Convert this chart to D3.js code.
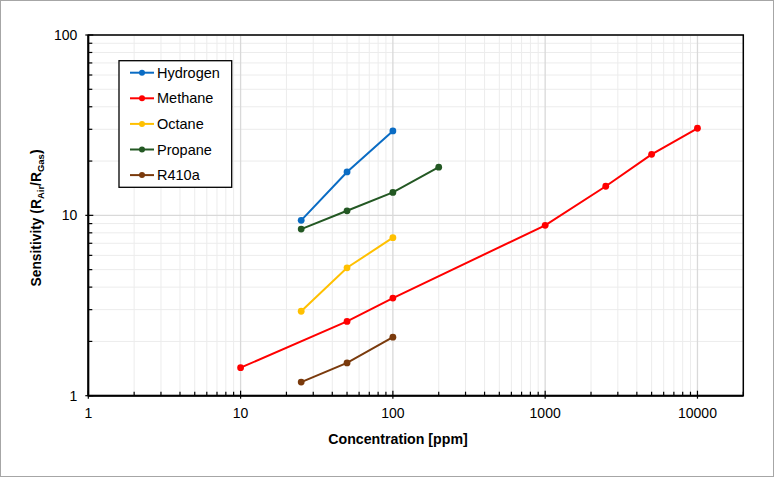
<!DOCTYPE html>
<html><head><meta charset="utf-8">
<script src="https://cdn.jsdelivr.net/npm/d3@7"></script>
<style>body{margin:0;background:#fff}svg{display:block;font-family:"Liberation Sans",Arial,sans-serif}</style>
</head><body>
<script>
const seriesNames = ["Hydrogen","Methane","Octane","Propane","R410a"];
const seriesColors = ["#0a6cc4","#ff0000","#ffc000","#235823","#7a3a0c"];
const hydrogen = [[25,9.38],[50,17.4],[100,29.4]];
const methane = [[10,1.43],[50,2.58],[100,3.48],[1000,8.8],[2500,14.5],[5000,21.8],[10000,30.4]];
const octane = [[25,2.94],[50,5.12],[100,7.52]];
const propane = [[25,8.39],[50,10.6],[100,13.4],[200,18.5]];
const r410a = [[25,1.19],[50,1.52],[100,2.11]];
const xTickLabels = [1,10,100,1000,10000];
const yTickLabels = [1,10,100];

const seriesData = [hydrogen, methane, octane, propane, r410a];
const W=774,H=477;
const m={l:88.3,t:35,r:743.3,b:395.7};
const svg=d3.select("body").append("svg").attr("width",W).attr("height",H);
svg.append("rect").attr("x",0.5).attr("y",0.5).attr("width",W-1).attr("height",H-1).attr("fill","#fff").attr("stroke","#a6a6a6");
const x=d3.scaleLog().domain([1,20000]).range([m.l,m.r]);
const y=d3.scaleLog().domain([1,100]).range([m.b,m.t]);

const minorX=[],majorX=[];
for(let d=1;d<=10000;d*=10){for(let k=1;k<10;k++){const v=d*k;if(v>20000)break;(k===1?majorX:minorX).push(v);}}
const minorY=[],majorY=[];
for(let d=1;d<100;d*=10){for(let k=1;k<10;k++){(k===1?majorY:minorY).push(d*k);}}
majorY.push(100);
const g=svg.append("g");
g.selectAll(".mx").data(minorX).join("line").attr("x1",d=>x(d)).attr("x2",d=>x(d)).attr("y1",m.t).attr("y2",m.b).attr("stroke","#ececec");
g.selectAll(".my").data(minorY).join("line").attr("y1",d=>y(d)).attr("y2",d=>y(d)).attr("x1",m.l).attr("x2",m.r).attr("stroke","#ececec");
g.selectAll(".Mx").data(majorX).join("line").attr("x1",d=>x(d)).attr("x2",d=>x(d)).attr("y1",m.t).attr("y2",m.b).attr("stroke","#d9d9d9").attr("stroke-width",1.3);
g.selectAll(".My").data(majorY).join("line").attr("y1",d=>y(d)).attr("y2",d=>y(d)).attr("x1",m.l).attr("x2",m.r).attr("stroke","#d9d9d9").attr("stroke-width",1.3);

// frame
svg.append("rect").attr("x",m.l).attr("y",m.t).attr("width",m.r-m.l).attr("height",m.b-m.t).attr("fill","none").attr("stroke","#000").attr("stroke-width",1.5);

// axes with inside ticks
const xa=svg.append("g").attr("transform",`translate(0,${m.b})`);
xa.selectAll(".t").data(majorX.concat(minorX)).join("line").attr("x1",d=>x(d)).attr("x2",d=>x(d)).attr("y1",d=>majorX.includes(d)?-5:-4).attr("y2",d=>majorX.includes(d)?3:0).attr("stroke","#000").attr("stroke-width",1.2);
xa.selectAll(".l").data(xTickLabels).join("text").attr("x",d=>x(d)).attr("y",22).attr("text-anchor","middle").attr("font-size",14).attr("fill","#000").text(d=>d);
const ya=svg.append("g").attr("transform",`translate(${m.l},0)`);
ya.selectAll(".t").data(majorY.concat(minorY)).join("line").attr("y1",d=>y(d)).attr("y2",d=>y(d)).attr("x1",d=>majorY.includes(d)?-3:0).attr("x2",d=>majorY.includes(d)?5:4).attr("stroke","#000").attr("stroke-width",1.2);
ya.selectAll(".l").data(yTickLabels).join("text").attr("x",-11).attr("y",d=>y(d)+5).attr("text-anchor","end").attr("font-size",14).attr("fill","#000").text(d=>d);
svg.append("line").attr("x1",m.l).attr("x2",m.r).attr("y1",m.b).attr("y2",m.b).attr("stroke","#000").attr("stroke-width",2);
svg.append("line").attr("x1",m.l).attr("x2",m.l).attr("y1",m.t).attr("y2",m.b).attr("stroke","#000").attr("stroke-width",2);

// axis titles
svg.append("text").attr("x",398).attr("y",444).attr("text-anchor","middle").attr("font-size",14.2).attr("font-weight","bold").text("Concentration [ppm]");
const yt=svg.append("text").attr("transform",`translate(41,218) rotate(-90)`).attr("text-anchor","middle").attr("font-size",13.8).attr("font-weight","bold");
yt.append("tspan").text("Sensitivity (R");
yt.append("tspan").attr("font-size",9.5).attr("dy",3).text("Air");
yt.append("tspan").attr("dy",-3).text("/R");
yt.append("tspan").attr("font-size",9.5).attr("dy",3).text("Gas");
yt.append("tspan").attr("dy",-3).text(")");

// series
const line=d3.line().x(d=>x(d[0])).y(d=>y(d[1]));
seriesData.forEach((s,i)=>{
  svg.append("path").attr("d",line(s)).attr("fill","none").attr("stroke",seriesColors[i]).attr("stroke-width",2);
  svg.selectAll(null).data(s).join("circle").attr("cx",d=>x(d[0])).attr("cy",d=>y(d[1])).attr("r",3.4).attr("fill",seriesColors[i]);
});

// legend
const lg=svg.append("g");
lg.append("rect").attr("x",119).attr("y",60.7).attr("width",112.7).attr("height",126.6).attr("fill","#fff").attr("stroke","#000").attr("stroke-width",1.3);
seriesNames.forEach((n,i)=>{
  const yy=72.7+i*25.6;
  lg.append("line").attr("x1",130).attr("x2",154).attr("y1",yy).attr("y2",yy).attr("stroke",seriesColors[i]).attr("stroke-width",2);
  lg.append("circle").attr("cx",142).attr("cy",yy).attr("r",3).attr("fill",seriesColors[i]);
  lg.append("text").attr("x",157).attr("y",yy+5).attr("font-size",14.5).text(n);
});
</script>
</body></html>
